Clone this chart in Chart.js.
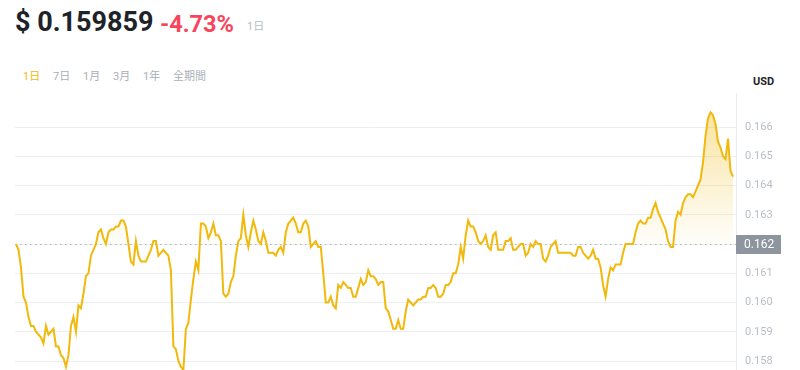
<!DOCTYPE html>
<html><head><meta charset="utf-8">
<script src="https://cdn.jsdelivr.net/npm/chart.js@4"></script>
<style>
html,body{margin:0;padding:0;width:800px;height:370px;overflow:hidden;background:#fff;font-family:Roboto,"Noto Sans CJK JP",sans-serif;}
.abs{position:absolute;white-space:nowrap;}
#price{left:15px;top:4px;font-size:27px;font-weight:700;color:#1e2329;line-height:36px;}
#chg{left:160px;top:8px;font-size:23.5px;font-weight:700;color:#f6465d;line-height:32px;}
#per{left:247px;top:20px;font-size:11px;color:#b7bdc6;line-height:14px;}
.tab{top:70px;font-size:11px;color:#a9afb8;line-height:14px;}
#usd{left:753px;top:75px;font-size:11px;font-weight:700;color:#1e2329;line-height:14px;}
#c{position:absolute;left:0;top:93px;width:800px;height:300px;}
</style></head>
<body>
<div class="abs" id="price">$ 0.159859</div>
<div class="abs" id="chg">-4.73%</div>
<div class="abs" id="per">1日</div>
<div class="abs tab" style="left:23px;color:#f0b90b">1日</div>
<div class="abs tab" style="left:53px">7日</div>
<div class="abs tab" style="left:83px">1月</div>
<div class="abs tab" style="left:113px">3月</div>
<div class="abs tab" style="left:143px">1年</div>
<div class="abs tab" style="left:173px">全期間</div>
<div class="abs" id="usd">USD</div>
<canvas id="c" width="800" height="300"></canvas>
<script>
const baseline = 0.162;
const yTicks = [0.158,0.159,0.160,0.161,0.162,0.163,0.164,0.165,0.166];
const prices = [
0.1620,0.1618,0.1612,0.1602,0.1600,0.1595,0.1592,0.1592,0.1590,0.1589,
0.1588,0.1586,0.1592,0.1589,0.1590,0.1591,0.1585,0.1585,0.1582,0.1581,
0.1578,0.1582,0.1592,0.1595,0.1590,0.1599,0.1598,0.1603,0.1609,0.1610,
0.1616,0.1618,0.1620,0.1624,0.1625,0.1622,0.1620,0.1624,0.1625,0.1625,
0.1626,0.1626,0.1628,0.1628,0.1626,0.1620,
0.1614,0.1613,0.1621,0.1616,0.1614,0.1614,0.1614,0.1616,0.1618,0.1621,
0.1621,0.1616,0.1617,0.1618,0.1617,0.1616,0.1611,0.1585,0.1584,0.1580,
0.1578,0.1577,0.1591,0.1593,0.1601,0.1608,0.1614,0.1611,0.1627,0.1627,
0.1626,0.1622,0.1624,0.1627,0.1623,0.1623,0.1621,0.1603,0.1602,0.1603,
0.1607,0.1609,0.1616,0.1621,0.1622,0.1630,0.1623,0.1619,0.1624,0.1628,
0.1625,0.1621,
0.1620,0.1624,0.1621,0.1617,0.1617,0.1617,0.1616,0.1618,0.1619,0.1617,
0.1624,0.1627,0.1628,0.1629,0.1627,0.1624,0.1624,0.1627,0.1628,0.1626,
0.1619,0.1620,0.1621,0.1619,0.1619,0.1610,0.1600,0.1600,0.1602,0.1599,
0.1598,0.1606,0.1605,0.1607,0.1606,0.1605,0.1605,0.1602,0.1602,0.1605,
0.1608,0.1606,0.1607,0.1611,0.1609,0.1609,0.1608,0.1606,0.1607,0.1607,
0.1598,0.1597,0.1594,0.1591,0.1591,0.1594,0.1591,0.1591,0.1597,0.1601,
0.1600,0.1599,0.1600,0.1601,0.1601,0.1602,0.1602,0.1605,0.1605,0.1606,
0.1605,0.1602,0.1602,0.1603,0.1606,0.1606,0.1607,0.1610,0.1610,0.1613,
0.1619,0.1615,0.1623,0.1628,0.1626,0.1626,0.1624,0.1621,0.1620,0.1621,
0.1623,0.1619,0.1618,0.1623,0.1624,0.1618,
0.1618,0.1618,0.1621,0.1621,0.1622,0.1618,0.1618,0.1619,0.1620,0.1620,
0.1616,0.1617,0.1620,0.1619,0.1621,0.1620,0.1620,0.1615,0.1614,0.1616,
0.1619,0.1620,0.1621,0.1617,0.1617,0.1617,0.1617,0.1617,0.1617,0.1616,
0.1616,0.1619,0.1619,0.1617,0.1616,0.1615,0.1616,0.1618,0.1615,0.1615,
0.1612,0.1606,0.1602,0.1608,0.1612,0.1611,0.1613,0.1613,
0.1613,0.1617,0.1620,0.1620,0.1620,0.1620,0.1624,0.1627,0.1628,0.1627,
0.1627,0.1629,0.1629,0.1632,0.1634,0.1631,0.1629,0.1627,0.1625,0.1621,
0.1619,0.1619,0.1628,0.1631,0.1630,0.1634,0.1636,0.1637,0.1637,0.1636,
0.1638,0.1640,0.1642,0.1648,0.1657,0.1663,0.1665,0.1664,0.1661,0.1655,
0.1653,0.1650,0.1649,0.1656,0.1645,0.1643
];
const points = prices.map((v,i)=>({x:i,y:v}));

const overlay = {
  id:'overlay',
  beforeDatasetsDraw(chart){
    const {ctx, chartArea:a, scales:{y}} = chart;
    const py = Math.round(y.getPixelForValue(baseline)) + 0.5;
    ctx.save();
    ctx.strokeStyle = '#aeb4bc';
    ctx.lineWidth = 1;
    ctx.setLineDash([1.5,3.5]);
    ctx.beginPath(); ctx.moveTo(a.left, py); ctx.lineTo(a.right, py); ctx.stroke();
    ctx.restore();
  },
  afterDraw(chart){
    const {ctx, chartArea:a, scales:{y}} = chart;
    const py = y.getPixelForValue(baseline);
    ctx.save();
    ctx.strokeStyle = '#eaecef'; ctx.lineWidth = 1;
    ctx.beginPath(); ctx.moveTo(a.right+0.5, 0); ctx.lineTo(a.right+0.5, chart.height); ctx.stroke();
    ctx.fillStyle = '#8e959f';
    ctx.fillRect(a.right, Math.round(py) - 9, 45, 19);
    ctx.fillStyle = '#ffffff';
    ctx.font = '12px Roboto';
    ctx.textBaseline = 'middle';
    ctx.fillText(baseline.toFixed(3), a.right + 8, Math.round(py) + 1);
    ctx.restore();
  }
};

new Chart(document.getElementById('c'), {
  type:'line',
  data:{datasets:[{
    data: points,
    borderColor:'#f0b90b',
    borderWidth:2,
    pointRadius:0,
    tension:0,
    fill:{target:{value:baseline}, above:(c)=>{
      const ch=c.chart; const a=ch.chartArea; if(!a) return 'rgba(240,185,11,0.2)';
      const y=ch.scales.y;
      const g=ch.ctx.createLinearGradient(0,y.getPixelForValue(0.1665),0,y.getPixelForValue(baseline));
      g.addColorStop(0,'rgba(240,185,11,0.38)');
      g.addColorStop(1,'rgba(240,185,11,0.02)');
      return g;
    }, below:'rgba(0,0,0,0)'}
  }]},
  options:{
    responsive:false, maintainAspectRatio:false, animation:false,
    layout:{padding:{left:15,top:0,bottom:0,right:0}},
    plugins:{legend:{display:false},tooltip:{enabled:false}},
    scales:{
      x:{type:'linear', display:false, min:-0.4, max:288.2},
      y:{
        position:'right',
        min:0.156906, max:0.1671624,
        afterFit(s){ s.width = 64; s.paddingTop = 0; s.paddingBottom = 0; },
        afterBuildTicks(s){ s.ticks = yTicks.map(v=>({value:v})); },
        border:{display:false},
        grid:{color:'#eceef1', drawTicks:false, lineWidth:1},
        ticks:{padding:9, color:'#b9bec6', font:{family:'Roboto', size:11},
          callback:(v)=>Number(v).toFixed(3)}
      }
    }
  },
  plugins:[overlay]
});
</script>
</body></html>
